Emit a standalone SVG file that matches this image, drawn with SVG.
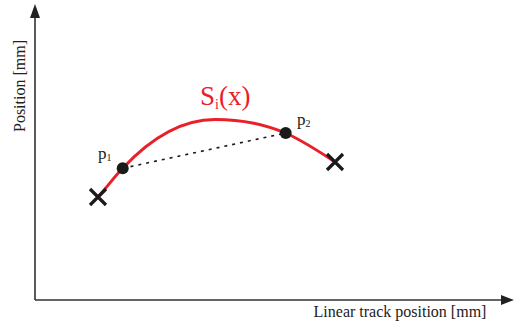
<svg xmlns="http://www.w3.org/2000/svg" width="515" height="325" viewBox="0 0 515 325">
<style>
.axis{stroke:#333;stroke-width:1.6;fill:none}
.lbl{font-family:"Liberation Serif","Times New Roman",serif;fill:#222}
.cross{stroke:#1a1a1a;stroke-width:3.2;fill:none}
.pt{fill:#1a1a1a}
</style>
<g id="axes">
<path class="axis" d="M35,300 L35,16 M35,300 L503,300"/>
<polygon points="35,4 30,18 40,18" fill="#222"/>
<polygon points="514,300 501,295 501,305" fill="#222"/>
<text class="lbl" font-size="16" transform="translate(25,86) rotate(-90)" text-anchor="middle">Position [mm]</text>
<text class="lbl" font-size="16" x="400" y="317" text-anchor="middle">Linear track position [mm]</text>
</g>
<g id="curve">
<path d="M98,197 C108,186 115,176 122.7,168.3 C150,139 180,119.5 215,119.5 C245,119.5 265,125 285.7,133 C305,142 320,152 335,162" stroke="#e8202a" stroke-width="3" fill="none"/>
<text x="200" y="105" font-family="'Liberation Serif','Times New Roman',serif" font-size="27" fill="#e8202a">S<tspan font-size="14" dy="4">i</tspan><tspan dy="-4">(x)</tspan></text>
</g>
<g id="connectors">
<line x1="122.7" y1="168.3" x2="285.7" y2="133" stroke="#1a1a1a" stroke-width="1.6" stroke-dasharray="3,5"/>
</g>
<g id="p1">
<circle class="pt" cx="122.7" cy="168.3" r="6"/>
<text class="lbl" font-size="17" x="98" y="159">p<tspan font-size="10" dy="2">1</tspan></text>
</g>
<g id="p2">
<circle class="pt" cx="285.7" cy="133" r="6"/>
<text class="lbl" font-size="17" x="297" y="125">p<tspan font-size="10" dy="2">2</tspan></text>
</g>
<g id="x1">
<path class="cross" d="M90,189 L106,205 M106,189 L90,205"/>
</g>
<g id="x2">
<path class="cross" d="M327,154 L343,170 M343,154 L327,170"/>
</g>
</svg>
